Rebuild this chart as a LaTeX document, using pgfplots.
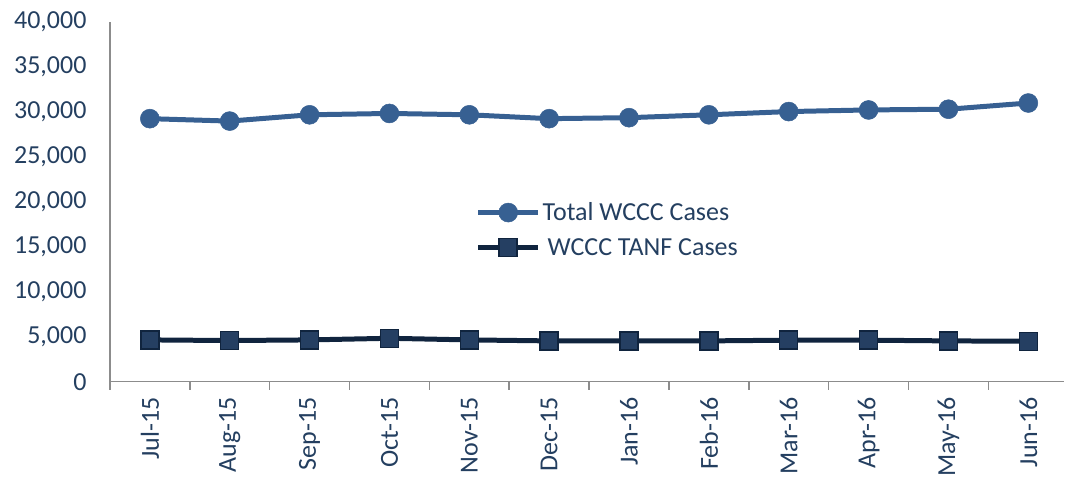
\documentclass[border=0pt]{standalone}
\usepackage{pgfplots}
\pgfplotsset{compat=1.18}
\usepackage{fontspec}
\setmainfont{Carlito}
\definecolor{txt}{HTML}{243F60}
\definecolor{tot}{HTML}{376092}
\definecolor{tanf}{HTML}{10243E}
\definecolor{tanfill}{HTML}{253F62}
\definecolor{axc}{HTML}{8C8C8C}
\begin{document}
\begin{tikzpicture}
\begin{axis}[
  scale only axis, width=955bp, height=360bp,
  xmin=-0.5, xmax=11.45, ymin=0, ymax=40000,
  axis lines=left,
  axis line style={axc, line width=1.5bp, -},
  ytick={0,5000,...,40000},
  scaled y ticks=false,
  ytick style={draw=none},
  xtick={0,...,11},
  xticklabels={Jul-15,Aug-15,Sep-15,Oct-15,Nov-15,Dec-15,Jan-16,Feb-16,Mar-16,Apr-16,May-16,Jun-16},
  major x tick style={draw=none},
  minor xtick={-0.5,0.5,...,10.5},
  minor x tick style={axc, line width=1.5bp},
  tick align=outside,
  major tick length=12bp,
  minor tick length=8bp,
  every tick label/.append style={font=\fontsize{26bp}{30bp}\selectfont, text=txt},
  yticklabel style={xshift=-8bp},
  xticklabel style={rotate=90, anchor=east},
  /pgf/number format/.cd, fixed, precision=0, 1000 sep={,}, assume math mode=true,
  /pgfplots/.cd,
  clip=false,
  legend style={draw=none, fill=none, at={(0.38,0.509)}, anchor=north west,
    font=\fontsize{26bp}{30bp}\selectfont, text=txt, row sep=12bp,
    legend cell align=left},
  legend image code/.code={
    \draw[mark repeat=2, mark phase=2] plot coordinates {(0bp,0bp) (30bp,0bp) (60bp,0bp)};
  },
]
\addplot[tot, line width=5bp, mark=*, mark size=9.5bp, mark options={fill=tot, draw=tot, line width=0.5bp}]
  coordinates {(0,29250) (1,28980) (2,29680) (3,29830) (4,29680) (5,29250) (6,29360) (7,29680) (8,30040) (9,30220) (10,30300) (11,30990)};
\addlegendentry{Total WCCC Cases}
\addplot[tanf, line width=5bp, mark=square*, mark size=9bp, mark options={fill=tanfill, draw=tanf, line width=1.5bp}]
  coordinates {(0,4650) (1,4580) (2,4650) (3,4830) (4,4650) (5,4540) (6,4540) (7,4540) (8,4620) (9,4620) (10,4540) (11,4500)};
\addlegendentry{\hspace{5bp}WCCC TANF Cases}
\end{axis}
\path ([shift={(-110bp,-97bp)}]current axis.south west) rectangle ([shift={(0bp,22bp)}]current axis.north east);
\end{tikzpicture}
\end{document}
